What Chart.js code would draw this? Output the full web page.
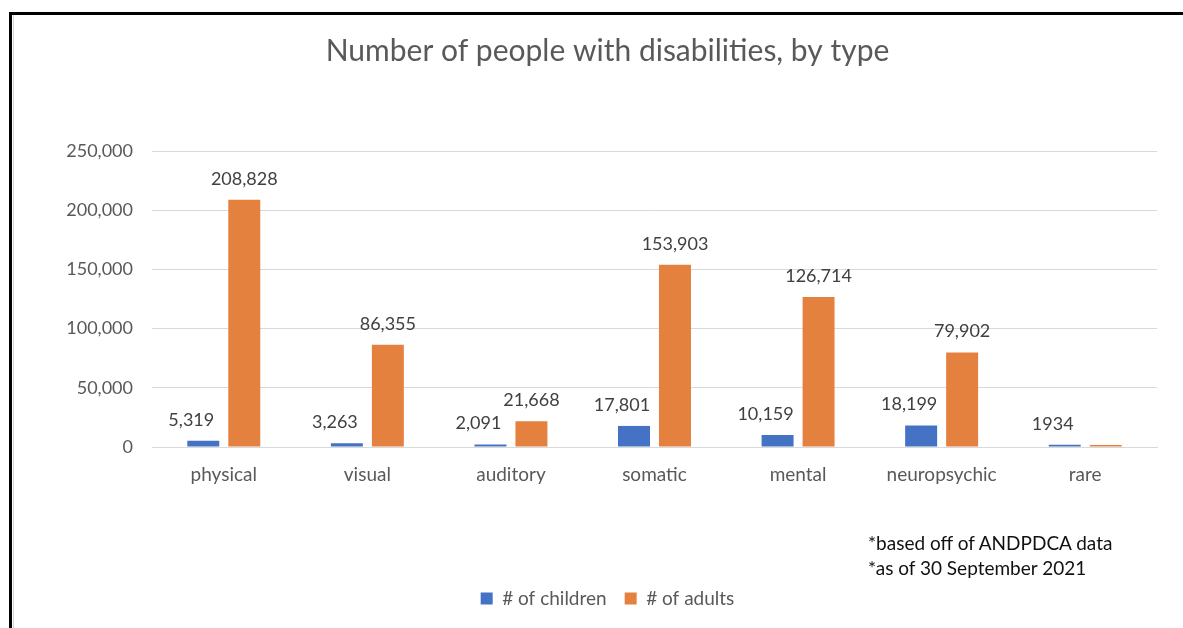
<!DOCTYPE html>
<html>
<head>
<meta charset="utf-8">
<script src="https://cdn.jsdelivr.net/npm/chart.js@4"></script>
<style>
  body { margin: 0; background: #fff; overflow: hidden; }
  #wrap { position: relative; width: 1183px; height: 628px; }
  #chart { position: absolute; left: 0; top: 0; }
  .frame { position: absolute; left: 9px; top: 12px; width: 1200px; height: 700px;
           border-left: 3px solid #000; border-top: 3px solid #000; pointer-events: none; }
  .frame-inner { position: absolute; left: 13px; top: 15px; width: 1px; height: 620px; background: #d4d4d4; }
  .note { position: absolute; left: 868px; font: 19px Lato, sans-serif; line-height: 23px; color: #111; }
</style>
</head>
<body>
<div id="wrap">
  <canvas id="chart" width="1183" height="628"></canvas>
  <div class="frame"></div>
  <div class="frame-inner"></div>
  <div class="note" style="top:531px">*based off of ANDPDCA data</div>
  <div class="note" style="top:556px">*as of 30 September 2021</div>
</div>
<script>
// === Chart data ===
const categories = ["physical", "visual", "auditory", "somatic", "mental", "neuropsychic", "rare"];
const children = [5319, 3263, 2091, 17801, 10159, 18199, 1934];
const adults = [208828, 86355, 21668, 153903, 126714, 79902, 1700];
const childLabels = ["5,319", "3,263", "2,091", "17,801", "10,159", "18,199", "1934"];
const adultLabels = ["208,828", "86,355", "21,668", "153,903", "126,714", "79,902", ""];
const yMax = 250000;
const yStep = 50000;

const FONT = "Lato, sans-serif";

// === Value labels above the bars ===
const barLabels = {
  id: "barLabels",
  afterDatasetsDraw(chart) {
    const ctx = chart.ctx;
    ctx.save();
    ctx.font = "18px " + FONT;
    ctx.fillStyle = "#404040";
    ctx.textAlign = "center";
    ctx.textBaseline = "middle";
    chart.data.datasets.forEach((ds, i) => {
      chart.getDatasetMeta(i).data.forEach((bar, j) => {
        const text = ds.valueLabels[j];
        if (!text) return;
        ctx.fillText(text, bar.x + ds.labelShift, bar.y - 21);
      });
    });
    ctx.restore();
  }
};

const ctx = document.getElementById("chart").getContext("2d");
new Chart(ctx, {
  type: "bar",
  data: {
    labels: categories,
    datasets: [
      {
        label: "# of children",
        data: children,
        valueLabels: childLabels,
        labelShift: -12,
        backgroundColor: "#4472C4"
      },
      {
        label: "# of adults",
        data: adults,
        valueLabels: adultLabels,
        labelShift: 0,
        backgroundColor: "#E5813F"
      }
    ]
  },
  options: {
    responsive: false,
    animation: false,
    categoryPercentage: 0.571,
    barPercentage: 0.78,
    layout: { padding: { left: 58, right: 26, top: 18, bottom: 10 } },
    plugins: {
      title: {
        display: true,
        text: "Number of people with disabilities, by type",
        color: "#595959",
        font: { family: FONT, size: 30, weight: "normal" },
        padding: { top: 15, bottom: 82 }
      },
      legend: {
        position: "bottom",
        labels: {
          color: "#595959",
          font: { family: FONT, size: 19 },
          boxWidth: 12,
          boxHeight: 12,
          padding: 18
        }
      },
      tooltip: { enabled: false }
    },
    scales: {
      x: {
        grid: { display: false, drawTicks: false },
        border: { color: "#d9d9d9" },
        ticks: { color: "#595959", font: { family: FONT, size: 19 }, padding: 16 },
        afterFit(scale) { scale.height = 124; }
      },
      y: {
        min: 0,
        max: yMax,
        grid: { color: "#d9d9d9", drawTicks: false },
        border: { display: false },
        ticks: {
          stepSize: yStep,
          padding: 19,
          color: "#595959",
          font: { family: FONT, size: 18 },
          callback: (v) => v.toLocaleString("en-US")
        },
        afterFit(scale) { scale.width = 94; }
      }
    }
  },
  plugins: [barLabels]
});
</script>
</body>
</html>
